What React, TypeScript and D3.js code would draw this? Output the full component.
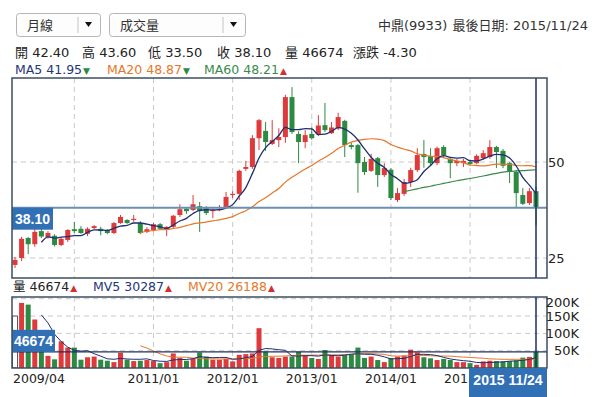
import React, { useRef, useEffect } from "react";
import * as d3 from "d3";

// monthly candles, 2009/04 .. 2015/11
const opens = [
  23.2, 25.0, 30.2, 28.6, 32.0, 30.5, 30.8, 28.4, 29.7, 32.5,
  32.6, 31.3, 32.8, 32.6, 32.3, 31.5, 34.1, 34.9, 34.9, 34.1,
  31.8, 32.3, 33.8, 32.3, 33.1, 36.2, 37.8, 37.5, 38.5, 38.0,
  37.2, 37.5, 38.3, 41.4, 41.7, 48.2, 48.7, 56.2, 58.1, 54.7,
  55.7, 56.5, 66.9, 57.3, 55.2, 57.3, 57.2, 59.6, 57.5, 58.8,
  60.7, 54.4, 54.4, 50.0, 47.7, 51.0, 46.6, 48.0, 40.1, 41.7,
  44.8, 47.9, 52.1, 51.5, 49.7, 53.9, 50.8, 49.7, 49.7, 50.0,
  49.7, 51.0, 51.3, 53.9, 52.9, 49.7, 47.4, 41.4, 39.3, 42.4,
];
const highs = [
  25.3, 30.5, 30.5, 32.8, 33.6, 32.0, 31.2, 30.3, 32.5, 34.4,
  33.3, 33.0, 33.6, 33.1, 32.5, 34.4, 36.2, 35.1, 36.2, 34.6,
  33.0, 34.1, 34.1, 33.3, 36.2, 39.0, 38.0, 41.4, 39.6, 38.5,
  37.8, 38.8, 42.2, 42.4, 48.0, 50.3, 57.0, 61.2, 60.4, 60.9,
  58.8, 67.5, 69.5, 58.0, 58.3, 59.0, 62.2, 65.4, 60.4, 62.8,
  61.0, 55.0, 54.7, 51.3, 52.1, 51.3, 49.7, 48.4, 43.2, 45.6,
  48.5, 53.6, 55.7, 53.6, 54.0, 54.4, 51.3, 50.8, 50.8, 50.5,
  52.0, 53.1, 55.7, 54.2, 53.4, 50.0, 47.9, 43.2, 43.2, 43.6,
];
const lows = [
  22.4, 24.2, 26.0, 27.9, 30.2, 30.0, 28.0, 28.1, 29.2, 31.5,
  31.3, 30.7, 32.5, 30.9, 31.2, 31.2, 33.9, 33.9, 34.4, 31.2,
  31.5, 32.0, 32.3, 30.7, 32.8, 35.7, 36.5, 37.2, 31.8, 36.2,
  35.4, 37.2, 38.0, 40.6, 40.1, 47.7, 48.2, 53.1, 52.9, 54.4,
  53.9, 55.0, 57.3, 49.7, 53.6, 55.8, 56.8, 57.8, 57.3, 58.3,
  51.3, 53.3, 42.0, 46.6, 47.4, 43.5, 46.1, 40.1, 39.6, 41.2,
  43.5, 47.4, 48.5, 49.2, 49.2, 51.3, 45.8, 48.9, 48.7, 49.0,
  49.4, 50.5, 50.8, 48.4, 48.4, 44.5, 38.0, 38.8, 38.8, 33.5,
];
const closes = [
  24.5, 30.0, 28.6, 31.8, 30.6, 31.5, 28.4, 30.0, 32.3, 32.0,
  31.5, 32.6, 33.3, 32.0, 31.5, 34.1, 35.7, 34.1, 35.2, 31.5,
  32.5, 33.8, 32.6, 33.1, 36.0, 37.7, 37.2, 39.0, 37.2, 36.7,
  37.5, 37.7, 40.9, 41.7, 47.7, 48.7, 56.2, 60.9, 55.2, 55.7,
  56.5, 66.9, 57.8, 55.2, 57.0, 56.2, 59.5, 58.3, 59.0, 61.7,
  54.4, 53.9, 49.7, 47.4, 50.8, 46.6, 48.4, 40.6, 41.9, 44.8,
  47.9, 51.8, 51.3, 49.7, 53.6, 51.8, 49.7, 50.3, 50.3, 49.5,
  51.6, 52.3, 53.9, 52.6, 49.0, 47.4, 41.9, 39.1, 42.4, 38.1,
];
// volume in lots
const volumes = [
  150000, 188000, 183000, 140000, 105000, 35000, 25000, 77000, 59000, 59000,
  24000, 31000, 33000, 24000, 21000, 17000, 44000, 24000, 20000, 21000,
  23000, 20000, 14000, 17000, 42000, 29000, 21000, 26000, 45000, 33000,
  24000, 24000, 27000, 19000, 38000, 40000, 42000, 115000, 47000, 31000,
  29000, 33000, 33000, 47000, 36000, 29000, 26000, 52000, 37000, 33000,
  37000, 40000, 59000, 29000, 33000, 23000, 17000, 29000, 33000, 36000,
  53000, 45000, 31000, 28000, 23000, 26000, 23000, 17000, 17000, 14000,
  9000, 19000, 21000, 20000, 19000, 20000, 22000, 30000, 32000, 46674,
];

const gridMonths = ["2010/01", "2011/01", "2012/01", "2013/01", "2014/01", "2015/01"];
const xTickLabels = ["2009/04", "2011/01", "2012/01", "2013/01", "2014/01", "2015/01"];
const priceTicks = [25, 50];
const volumeTicks = [50000, 100000, 150000, 200000];

const lastPrice = 38.1;
const lastVolume = 46674;

const quoteItems = ["開 42.40", "高 43.60", "低 33.50", "收 38.10", "量 46674", "漲跌 -4.30"];
const maItems = [
  { label: "MA5 41.95", color: "#24367a", up: false },
  { label: "MA20 48.87", color: "#e5782a", up: false },
  { label: "MA60 48.21", color: "#3a8a4a", up: true },
];
const mvItems = [
  { label: "量 46674", color: "#222", up: true },
  { label: "MV5 30287", color: "#24367a", up: true },
  { label: "MV20 26188", color: "#e5782a", up: true },
];

const movingAvg = (arr: number[], n: number) =>
  arr.map((_, i) => (i < n - 1 ? null : d3.mean(arr.slice(i - n + 1, i + 1))!));

const App: React.FC = () => {
  const chartRef = useRef<SVGSVGElement | null>(null);

  useEffect(() => {
    if (!chartRef.current) return;
    d3.select(chartRef.current).selectAll("*").remove();

    const width = 600;
    const height = 397;
    const left = 12;
    const right = 547;
    const priceTop = 78;
    const priceBottom = 278;
    const volTop = 297;
    const volBottom = 368;
    const latin = "'DejaVu Sans', 'Noto Sans CJK TC', sans-serif";
    const boxFont = "'Liberation Sans', Arial, sans-serif";
    const red = "#de3a3c";
    const green = "#2d8a42";
    const boxBlue = "#3270b6";

    const svg = d3.select(chartRef.current).attr("width", width).attr("height", height);

    const months = d3.timeMonths(new Date(2009, 3, 1), new Date(2015, 11, 1));
    const fmt = d3.timeFormat("%Y/%m");
    const keys = months.map((m) => fmt(m));
    const idx = d3.range(keys.length);

    const x = d3.scalePoint<number>().domain(idx).range([15, 536]);
    const y = d3.scaleLinear().domain([25, 50]).range([258, 162]);
    const yv = d3.scaleLinear().domain([0, 205000]).range([volBottom, volTop]);

    // ---------- header ----------
    const drop = (bx: number, w: number, label: string) => {
      const g = svg.append("g");
      g.append("rect")
        .attr("x", bx + 0.5).attr("y", 13.5).attr("width", w).attr("height", 23)
        .attr("rx", 3).attr("fill", "#fdfdfd").attr("stroke", "#b5b5b5");
      g.append("line")
        .attr("x1", bx + w - 22).attr("x2", bx + w - 22).attr("y1", 17).attr("y2", 33)
        .attr("stroke", "#c4c4c4");
      g.append("path")
        .attr("d", `M${bx + w - 15},22 l7,0 l-3.5,5 z`).attr("fill", "#111");
      g.append("text")
        .attr("x", bx + 11).attr("y", 30).text(label)
        .style("font-family", latin).style("font-size", "13px").style("fill", "#333");
    };
    drop(16, 84, "月線");
    drop(109, 136, "成交量");

    svg.append("text").attr("x", 378).attr("y", 30).text("中鼎(9933)")
      .style("font-family", latin).style("font-size", "13px").style("fill", "#333");
    svg.append("text").attr("x", 588).attr("y", 30).attr("text-anchor", "end")
      .text("最後日期: 2015/11/24")
      .style("font-family", latin).style("font-size", "13px").style("fill", "#333");

    const quoteX = [15, 82, 148, 217, 285, 353];
    quoteItems.forEach((t, i) => {
      svg.append("text").attr("x", quoteX[i]).attr("y", 57).text(t)
        .style("font-family", latin).style("font-size", "13px").style("fill", "#222");
    });

    const legendRow = (items: typeof maItems, xs: number[], yy: number) => {
      items.forEach((it, i) => {
        const t = svg.append("text").attr("x", xs[i]).attr("y", yy)
          .style("font-family", latin).style("font-size", "12.5px");
        t.append("tspan").style("fill", it.color).text(it.label);
        t.append("tspan").attr("dx", 1).style("fill", it.up ? "#d32f2f" : "#2d8a42")
          .style("font-size", "9px").text(it.up ? "▲" : "▼");
      });
    };
    legendRow(maItems, [15, 107, 204], 74);
    legendRow(mvItems, [13, 93, 188], 291);

    // ---------- price panel ----------
    svg.append("clipPath").attr("id", "pclip").append("rect")
      .attr("x", left).attr("y", priceTop).attr("width", right - left).attr("height", priceBottom - priceTop);
    svg.append("clipPath").attr("id", "vclip").append("rect")
      .attr("x", left).attr("y", volTop).attr("width", right - left).attr("height", volBottom - volTop);

    const grid = (top: number, bottom: number, ys: number[]) => {
      const g = svg.append("g").attr("stroke", "#c9c9c9").attr("stroke-dasharray", "5,4");
      gridMonths.forEach((m) => {
        const gx = x(keys.indexOf(m))!;
        g.append("line").attr("x1", gx).attr("x2", gx).attr("y1", top).attr("y2", bottom);
      });
      ys.forEach((gy) => {
        g.append("line").attr("x1", left).attr("x2", right).attr("y1", gy).attr("y2", gy);
      });
    };
    grid(priceTop, priceBottom, priceTicks.map((p) => y(p)));
    grid(volTop, volBottom, volumeTicks.map((v) => yv(v)));

    const pg = svg.append("g").attr("clip-path", "url(#pclip)");
    const bodyW = 5;
    idx.forEach((i) => {
      const c = closes[i] >= opens[i] ? red : green;
      const cx = x(i)!;
      pg.append("line").attr("x1", cx).attr("x2", cx)
        .attr("y1", y(highs[i])).attr("y2", y(lows[i])).attr("stroke", c).attr("stroke-width", 1);
      const top = y(Math.max(opens[i], closes[i]));
      const bot = y(Math.min(opens[i], closes[i]));
      pg.append("rect").attr("x", cx - bodyW / 2).attr("y", top)
        .attr("width", bodyW).attr("height", Math.max(1, bot - top)).attr("fill", c);
    });

    const maLine = (vals: (number | null)[], color: string, w: number) => {
      const line = d3.line<number | null>()
        .defined((d) => d != null)
        .x((_, i) => x(i)!)
        .y((d) => y(d as number))
        .curve(d3.curveMonotoneX);
      pg.append("path").datum(vals).attr("d", line).attr("fill", "none")
        .attr("stroke", color).attr("stroke-width", w);
    };
    maLine(movingAvg(closes, 60), "#3a8a4a", 1.2);
    maLine(movingAvg(closes, 20), "#e5782a", 1.2);
    maLine(movingAvg(closes, 5), "#1d2f72", 1.3);

    // last price line + tag
    svg.append("line").attr("x1", left).attr("x2", right)
      .attr("y1", y(lastPrice)).attr("y2", y(lastPrice))
      .attr("stroke", "#6a8fb2").attr("stroke-width", 2);
    svg.append("rect").attr("x", left).attr("y", y(lastPrice))
      .attr("width", 41).attr("height", 22).attr("fill", boxBlue);
    svg.append("text").attr("x", left + 20.5).attr("y", y(lastPrice) + 16).attr("text-anchor", "middle")
      .text(lastPrice.toFixed(2))
      .style("font-family", boxFont).style("font-size", "14px").style("font-weight", "bold").style("fill", "#fff");

    // ---------- volume panel ----------
    const vg = svg.append("g").attr("clip-path", "url(#vclip)");
    idx.forEach((i) => {
      const cx = x(i)!;
      const fill = i === 0 ? "#fff" : closes[i] >= closes[i - 1] ? red : green;
      vg.append("rect").attr("x", cx - bodyW / 2).attr("y", yv(volumes[i]))
        .attr("width", bodyW).attr("height", yv(0) - yv(volumes[i]))
        .attr("fill", fill).attr("stroke", i === 0 ? "#333" : "none").attr("stroke-width", 0.8);
    });
    const mvLine = (vals: (number | null)[], color: string) => {
      const line = d3.line<number | null>()
        .defined((d) => d != null)
        .x((_, i) => x(i)!)
        .y((d) => yv(d as number));
      vg.append("path").datum(vals).attr("d", line).attr("fill", "none")
        .attr("stroke", color).attr("stroke-width", 1);
    };
    mvLine(movingAvg(volumes, 20), "#e5782a");
    mvLine(movingAvg(volumes, 5), "#1d2f72");

    svg.append("line").attr("x1", left).attr("x2", right)
      .attr("y1", yv(lastVolume)).attr("y2", yv(lastVolume))
      .attr("stroke", "#1d2f5e").attr("stroke-width", 1.2);
    svg.append("rect").attr("x", left).attr("y", yv(lastVolume) - 22)
      .attr("width", 43).attr("height", 22).attr("fill", boxBlue);
    svg.append("text").attr("x", left + 21.5).attr("y", yv(lastVolume) - 6).attr("text-anchor", "middle")
      .text(String(lastVolume))
      .style("font-family", boxFont).style("font-size", "14px").style("font-weight", "bold").style("fill", "#fff");

    // crosshair on last bar
    const lx = x(idx.length - 1)!;
    [[priceTop, priceBottom], [volTop, volBottom]].forEach(([a, b]) => {
      svg.append("line").attr("x1", lx).attr("x2", lx).attr("y1", a).attr("y2", b)
        .attr("stroke", "#1d2f5e").attr("stroke-width", 1.5);
    });

    // frames
    [[priceTop, priceBottom], [volTop, volBottom]].forEach(([a, b]) => {
      svg.append("rect").attr("x", left).attr("y", a).attr("width", right - left).attr("height", b - a)
        .attr("fill", "none").attr("stroke", "#3c4d5f").attr("stroke-width", 1.5);
    });

    // axes labels
    priceTicks.forEach((p) => {
      svg.append("text").attr("x", 548).attr("y", y(p) + 5).text(p)
        .style("font-family", latin).style("font-size", "13px").style("fill", "#222");
    });
    volumeTicks.forEach((v) => {
      svg.append("text").attr("x", 579).attr("y", Math.max(yv(v) + 4.5, 307))
        .attr("text-anchor", "end").text(d3.format("d")(v / 1000) + "K")
        .style("font-family", latin).style("font-size", "13px").style("fill", "#222");
    });
    xTickLabels.forEach((m, i) => {
      const tx = x(keys.indexOf(m))!;
      svg.append("text").attr("x", i === 0 ? 13 : tx).attr("y", 383)
        .attr("text-anchor", i === 0 ? "start" : "middle").text(m)
        .style("font-family", latin).style("font-size", "12.5px").style("fill", "#222");
    });

    // last date tag
    svg.append("rect").attr("x", 469).attr("y", volBottom).attr("width", 78).attr("height", 30)
      .attr("fill", boxBlue);
    svg.append("text").attr("x", 508).attr("y", 385).attr("text-anchor", "middle")
      .text("2015 11/24")
      .style("font-family", boxFont).style("font-size", "14px").style("font-weight", "bold").style("fill", "#fff");
  }, []);

  return (
    <svg
      ref={chartRef}
      style={{ position: "absolute", left: 0, top: 0, background: "#fff", display: "block" }}
    ></svg>
  );
};

export default App;
